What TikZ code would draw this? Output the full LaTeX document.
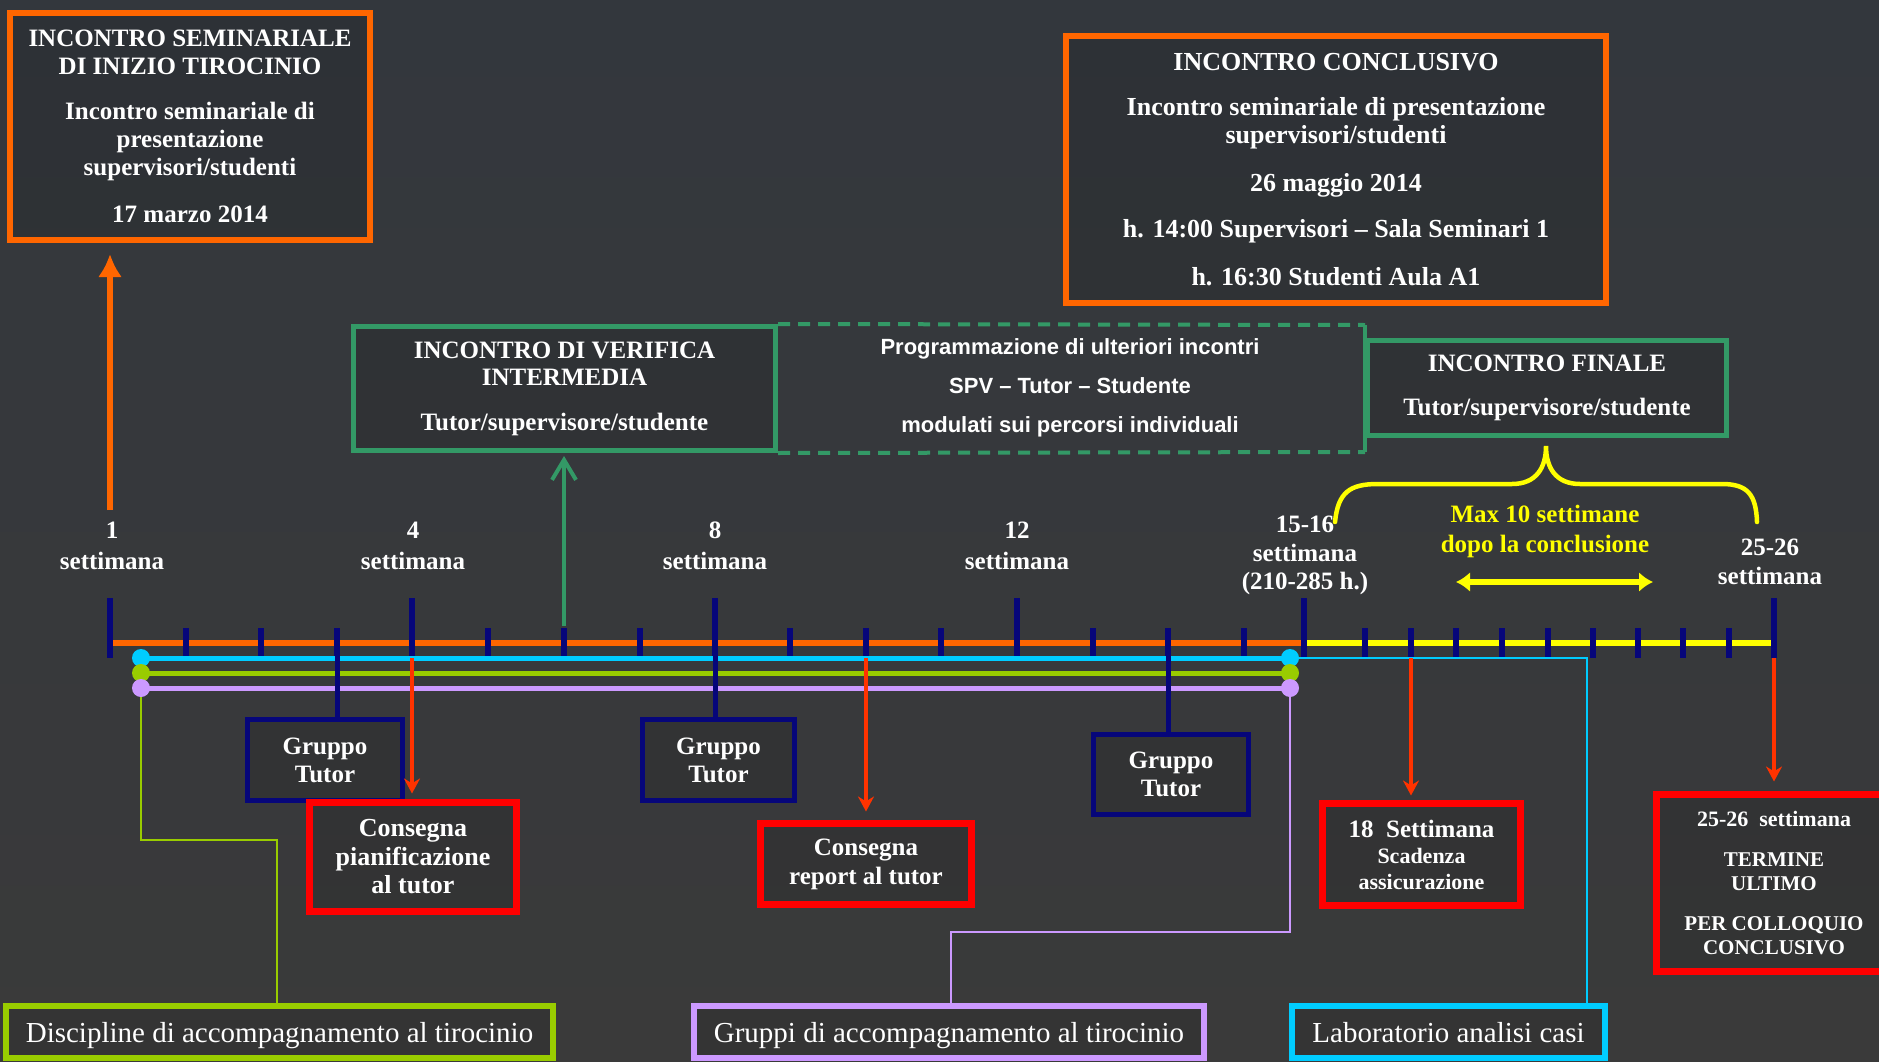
\documentclass[tikz,border=0pt]{standalone}
\usepackage{fontspec}
\setmainfont{Liberation Serif}
\setsansfont{Liberation Sans}
\usetikzlibrary{arrows.meta}
\definecolor{orangeC}{HTML}{FF6600}
\definecolor{redC}{HTML}{FF0000}
\definecolor{redA}{HTML}{FF3300}
\definecolor{navyC}{HTML}{06067A}
\definecolor{greenC}{HTML}{339966}
\definecolor{yellowC}{HTML}{FFFF00}
\definecolor{cyanC}{HTML}{00CCFF}
\definecolor{ygC}{HTML}{99CC00}
\definecolor{lilacC}{HTML}{CC99FF}
\definecolor{bgT}{HTML}{33373D}
\definecolor{bgM}{HTML}{3E3F41}
\definecolor{bgB}{HTML}{3A3A3A}
\newcommand\myfs[2]{\fontsize{#1}{#2}\selectfont}
\begin{document}
\begin{tikzpicture}[x=1pt,y=-1pt,
  bx/.style={draw=#1, fill=black, fill opacity=0.1, draw opacity=1, text opacity=1,
    text=white, align=center, inner sep=0pt},
  botbox/.style={bx=#1, line width=6pt, minimum height=52pt, font=\myfs{29}{32}, text height=26pt, text depth=6pt},
  lbl/.style={text=white, align=center, inner sep=0pt, font=\bfseries\myfs{25}{31}},
  tk/.style={navyC, line width=6pt},
  redarrow/.style={redA, line width=4pt, -{Stealth[length=15pt,width=16pt]}},
  thin/.style={line width=2.5pt},
  thick/.style={line width=5pt}]
\useasboundingbox (0,0) rectangle (1879,1062);
\shade[top color=bgT, middle color=bgM, bottom color=bgB] (0,0) rectangle (1879,1062);

% ---------- top boxes ----------
\node[bx=orangeC, line width=6pt, minimum width=360pt, minimum height=227pt,
  font=\bfseries\myfs{25}{28}] (semi) at (190,126.5)
  {INCONTRO SEMINARIALE\\DI INIZIO TIROCINIO\\[17pt]Incontro seminariale di\\presentazione\\supervisori/studenti\\[19pt]17 marzo 2014};

\node[bx=orangeC, line width=6pt, minimum width=540pt, minimum height=267pt,
  font=\bfseries\myfs{26}{28}] (concl) at (1336,169.5)
  {INCONTRO CONCLUSIVO\\[17pt]Incontro seminariale di presentazione\\supervisori/studenti\\[20pt]26 maggio 2014\\[18pt]h. 14:00 Supervisori – Sala Seminari 1\\[20pt]h. 16:30 Studenti Aula A1};

\node[bx=greenC, line width=5pt, minimum width=422pt, minimum height=124pt,
  font=\bfseries\myfs{25}{27}] (verif) at (564.5,388.5)
  {INCONTRO DI VERIFICA\\INTERMEDIA\\[18pt]Tutor/supervisore/studente};

\node[text=white, align=center, inner sep=0pt, font=\sffamily\bfseries\myfs{22}{39}] (prog) at (1070,388)
  {Programmazione di ulteriori incontri\\SPV – Tutor – Studente\\modulati sui percorsi individuali};

\node[bx=greenC, line width=5pt, minimum width=359pt, minimum height=95pt,
  font=\bfseries\myfs{25}{28}] (final) at (1547,388)
  {INCONTRO FINALE\\[16pt]Tutor/supervisore/studente};

\coordinate (dNE) at (1365,325);
\coordinate (dSE) at (1365,452);
\draw[greenC, line width=4pt, dash pattern=on 12pt off 8pt] (verif.north east) -- (dNE);
\draw[greenC, line width=4pt, dash pattern=on 12pt off 8pt] (verif.south east) -- (dSE);
\draw[greenC, line width=4pt] (dNE) -- (dSE);

% ---------- brace and yellow labels ----------
\coordinate (btip) at (1546,446);
\draw[yellowC, line width=4.5pt, line cap=round]
  (1335,522) .. controls (1338,492) and (1350,484) .. (1378,484) -- (1512,484)
  .. controls (1536,484) and (1546,468) .. (btip)
  .. controls (1546,468) and (1556,484) .. (1580,484) -- (1722,484)
  .. controls (1748,484) and (1756,495) .. (1757,522);
\node[lbl, text=yellowC, font=\bfseries\myfs{25}{30}] (ylab) at (1545,531) {Max 10 settimane\\dopo la conclusione};
\coordinate (ya1) at (1456,582);
\coordinate (ya2) at (1653,582);
\draw[yellowC, line width=6pt, {Latex[length=14pt,width=20pt]}-{Latex[length=14pt,width=20pt]}] (ya1) -- (ya2);

% ---------- week labels ----------
\node[lbl] (l1) at (112,545.5) {1\\settimana};
\node[lbl] (l4) at (413,545.5) {4\\settimana};
\node[lbl] (l8) at (715,545.5) {8\\settimana};
\node[lbl] (l12) at (1017,545.5) {12\\settimana};
\node[lbl, font=\bfseries\myfs{25}{28.5}] (l15) at (1305,555.5) {15-16\\settimana\\(210-285 h.)};
\node[lbl, font=\bfseries\myfs{25}{29}] (l25) at (1770,561.5) {25-26\\settimana};

% ---------- coloured period lines ----------
\coordinate (cL) at (141,658); \coordinate (cR) at (1290,658);
\coordinate (gL) at (141,673); \coordinate (gR) at (1290,673);
\coordinate (lL) at (141,688); \coordinate (lR) at (1290,688);

% ---------- timeline ----------
\draw[orangeC, line width=6pt] (113,643) -- (1304,643);
\draw[yellowC, line width=6pt] (1304,643) -- (1774,643);
\foreach \x in {110,412,715,1017,1304,1774} \draw[tk] (\x,598) -- (\x,658);
\foreach \x in {186,261,337,488,564,640,790,866,941,1093,1168,1244,1365,1411,1456,1502,1548,1593,1638,1683,1729}
  \draw[tk] (\x,628) -- (\x,658);

% ---------- bottom boxes ----------
\node[botbox=ygC, minimum width=547pt] (b1) at (279.5,1032)
  {Discipline di accompagnamento al tirocinio};
\node[botbox=lilacC, minimum width=510pt] (b2) at (949,1032)
  {Gruppi di accompagnamento al tirocinio};
\node[botbox=cyanC, minimum width=313pt] (b3) at (1448.5,1032)
  {Laboratorio analisi casi};

\coordinate (gk1) at (141,840); \coordinate (gk2) at (277,840);
\coordinate (lk1) at (1290,932); \coordinate (lk2) at (951,932);
\coordinate (ck1) at (1587,658);
\draw[ygC, thin] (gL) -- (gk1) -- (gk2) -- (gk2 |- b1.north);
\draw[lilacC, thin] (lR) -- (lk1) -- (lk2) -- (lk2 |- b2.north);
\draw[cyanC, thin] (cR) -- (ck1) -- (ck1 |- b3.north);

\draw[cyanC, thick] (cL) -- (cR);
\draw[ygC, thick] (gL) -- (gR);
\draw[lilacC, thick] (lL) -- (lR);
\fill[cyanC] (cL) circle[radius=9pt];
\fill[cyanC] (cR) circle[radius=9pt];
\fill[ygC] (gL) circle[radius=9pt];
\fill[ygC] (gR) circle[radius=9pt];
\fill[lilacC] (lL) circle[radius=9pt];
\fill[lilacC] (lR) circle[radius=9pt];

% ---------- Gruppo Tutor ----------
\node[bx=navyC, line width=5pt, minimum width=155pt, minimum height=81pt, font=\bfseries\myfs{25}{28}] (gt1) at (325,760) {Gruppo\\Tutor};
\node[bx=navyC, line width=5pt, minimum width=152pt, minimum height=81pt, font=\bfseries\myfs{25}{28}] (gt2) at (718.5,760) {Gruppo\\Tutor};
\node[bx=navyC, line width=5pt, minimum width=155pt, minimum height=80pt, font=\bfseries\myfs{25}{28}] (gt3) at (1171,774.5) {Gruppo\\Tutor};
\coordinate (tk337) at (337,640);
\coordinate (tk715) at (715,640);
\coordinate (tk1168) at (1168,640);
\draw[navyC, line width=5pt] (tk337) -- (tk337 |- gt1.north);
\draw[navyC, line width=5pt] (tk715) -- (tk715 |- gt2.north);
\draw[navyC, line width=5pt] (tk1168) -- (tk1168 |- gt3.north);

% ---------- red boxes ----------
\node[bx=redC, line width=7pt, minimum width=207pt, minimum height=109pt, font=\bfseries\myfs{26}{28.5}] (r1) at (413,857)
  {Consegna\\pianificazione\\al tutor};
\node[bx=redC, line width=7pt, minimum width=211pt, minimum height=81pt, font=\bfseries\myfs{25}{29}] (r2) at (866,864)
  {Consegna\\report al tutor};
\node[bx=redC, line width=7pt, minimum width=198pt, minimum height=102pt, font=\bfseries\myfs{22}{26}] (r3) at (1421.5,854.5)
  {{\myfs{25}{26}18\ \ Settimana}\\Scadenza\\assicurazione};
\node[bx=redC, line width=7pt, minimum width=235pt, minimum height=177pt, font=\bfseries\myfs{21}{24}] (r4) at (1774,883)
  {{\myfs{22}{24}25-26\ \ settimana}\\[16pt]TERMINE\\ULTIMO\\[16pt]PER COLLOQUIO\\CONCLUSIVO};

\coordinate (tk412) at (412,658);
\coordinate (tk866) at (866,658);
\coordinate (tk1411) at (1411,658);
\coordinate (tk1774) at (1774,658);
\draw[redarrow, shorten >=5.5pt] (tk412) -- (tk412 |- r1.north);
\draw[redarrow, shorten >=8.5pt] (tk866) -- (tk866 |- r2.north);
\draw[redarrow, shorten >=4.5pt] (tk1411) -- (tk1411 |- r3.north);
\draw[redarrow, shorten >=9.5pt] (tk1774) -- (tk1774 |- r4.north);

% ---------- upward arrows ----------
\coordinate (oa) at (110,510);
\draw[orangeC, line width=6pt, -{Latex[length=23pt,width=24pt]}, shorten >=11pt] (oa) -- (oa |- semi.south);
\coordinate (va) at (564,626);
\draw[greenC, line width=4pt, -{Straight Barb[length=20pt,width=24pt]}, shorten >=3pt] (va) -- (va |- verif.south);
\end{tikzpicture}
\end{document}
